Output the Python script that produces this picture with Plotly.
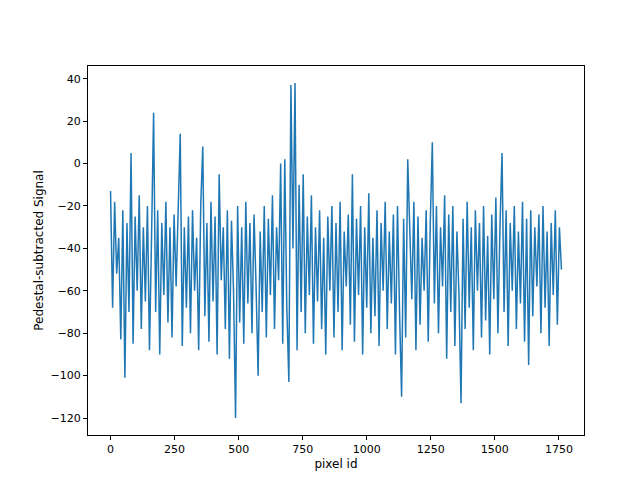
import plotly.graph_objects as go

signal = [
    -13, -68, -18, -52, -35, -83, -22, -101, -28, -70,
    5, -85, -25, -60, -15, -78, -30, -65, -20, -88,
    -35, 24, -70, -22, -90, -28, -62, -18, -75, -30,
    -82, -24, -58, -20, 14, -86, -30, -68, -25, -80,
    -22, -60, -35, -88, -20, 8, -72, -28, -84, -18,
    -65, -25, -90, -5, -55, -30, -78, -22, -92, -27,
    -60, -120, -20, -75, -30, -85, -18, -66, -28, -80,
    -24, -58, -100, -32, -70, -20, -82, -26, -62, -15,
    -78, -30, -55, 0, -85, 2, -68, -103, 37, -40,
    38, -88, -10, -70, -5, -80, -25, -62, -15, -85,
    -30, -65, -22, -78, -35, -90, -25, -60, -20, -82,
    -28, -70, -18, -88, -32, -58, -24, -76, -5, -84,
    -26, -62, -20, -90, -30, -68, -14, -80, -35, -72,
    -22, -86, -28, -60, -18, -78, -32, -66, -24, -90,
    -20, -70, -110, -26, -82, 2, -30, -64, -18, -88,
    -25, -76, -35, -60, -22, -84, -28, 10, -66, -20,
    -80, -30, -58, -15, -92, -24, -70, -20, -86, -32,
    -62, -113, -26, -78, -18, -68, -30, -88, -22, -60,
    -28, -82, -20, -74, -34, -90, -24, -64, -16, -80,
    -30, 5, -70, -22, -86, -28, -60, -20, -78, -32,
    -66, -18, -84, -26, -95, -22, -72, -30, -58, -24,
    -80, -20, -68, -32, -86, -28, -62, -22, -76, -30,
    -50,
]
pixel_id = [8 * i for i in range(len(signal))]

fig = go.Figure(go.Scatter(x=pixel_id, y=signal, mode="lines",
                           line=dict(color="#1f77b4", width=1.5)))

axis = dict(showgrid=False, zeroline=False, showline=True, linecolor="black",
            linewidth=1, mirror=True, ticks="outside", ticklen=4, automargin=False,
            tickcolor="black", tickfont=dict(size=11, color="black"))
fig.update_layout(
    width=640, height=480, plot_bgcolor="white", paper_bgcolor="white",
    margin=dict(l=80, r=64, t=58, b=53), showlegend=False,
    font=dict(family="DejaVu Sans", color="black"),
    xaxis=dict(axis, range=[-88, 1848], tickvals=[0, 250, 500, 750, 1000, 1250, 1500, 1750],
               title=dict(text="pixel id", font=dict(size=12), standoff=4)),
    yaxis=dict(axis, range=[-128, 46], tickvals=[-120, -100, -80, -60, -40, -20, 0, 20, 40],
               ticktext=["\u2212120", "\u2212100", "\u221280", "\u221260", "\u221240", "\u221220", "0", "20", "40"],
               title=dict(text="Pedestal-subtracted Signal", font=dict(size=12), standoff=4)),
)
fig.write_html("out.html")
